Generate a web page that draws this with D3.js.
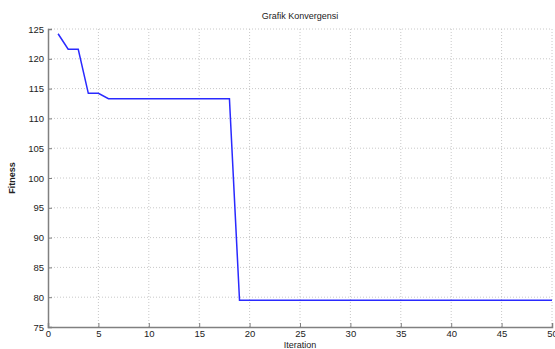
<!DOCTYPE html>
<html>
<head>
<meta charset="utf-8">
<script src="https://cdn.jsdelivr.net/npm/d3@7"></script>
<style>
  body { margin: 0; background: #fff; }
  text { font-family: "Liberation Sans", Arial, sans-serif; }
</style>
</head>
<body>
<div id="chart"></div>
<script>
// fitness per iteration
const iterations = d3.range(1, 51);
const fitness = [
  124.2, 121.6, 121.6, 114.2, 114.2, 113.3, 113.3, 113.3, 113.3, 113.3,
  113.3, 113.3, 113.3, 113.3, 113.3, 113.3, 113.3, 113.3, 79.5, 79.5,
  79.5, 79.5, 79.5, 79.5, 79.5, 79.5, 79.5, 79.5, 79.5, 79.5,
  79.5, 79.5, 79.5, 79.5, 79.5, 79.5, 79.5, 79.5, 79.5, 79.5,
  79.5, 79.5, 79.5, 79.5, 79.5, 79.5, 79.5, 79.5, 79.5, 79.5
];
const xTicks = [0, 5, 10, 15, 20, 25, 30, 35, 40, 45, 50];
const yTicks = [75, 80, 85, 90, 95, 100, 105, 110, 115, 120, 125];

const svgWidth = 555;
const svgHeight = 349;
const margin = { top: 29, right: 3, bottom: 22, left: 48 };
const width = svgWidth - margin.left - margin.right;
const height = svgHeight - margin.top - margin.bottom;

const svg = d3.select("#chart")
  .append("svg")
  .attr("width", svgWidth)
  .attr("height", svgHeight);

const g = svg.append("g")
  .attr("transform", `translate(${margin.left},${margin.top})`);

const x = d3.scaleLinear().domain([0, 50]).range([0, width]);
const y = d3.scaleLinear().domain([75, 125]).range([height, 0]);

// dotted grid
g.append("g")
  .selectAll("line")
  .data(xTicks.slice(1))
  .join("line")
  .attr("x1", d => x(d)).attr("x2", d => x(d))
  .attr("y1", 0).attr("y2", height)
  .attr("stroke", "#c8c8c8")
  .attr("stroke-dasharray", "1,2");

g.append("g")
  .selectAll("line")
  .data(yTicks.slice(1))
  .join("line")
  .attr("x1", 0).attr("x2", width)
  .attr("y1", d => y(d)).attr("y2", d => y(d))
  .attr("stroke", "#c8c8c8")
  .attr("stroke-dasharray", "1,2");

// axes, ticks pointing inwards
const xAxis = g.append("g")
  .attr("transform", `translate(0,${height})`)
  .call(d3.axisBottom(x).tickValues(xTicks).tickSize(-4).tickPadding(3));

const yAxis = g.append("g")
  .call(d3.axisLeft(y).tickValues(yTicks).tickSize(-4).tickPadding(4));

[xAxis, yAxis].forEach(a => {
  a.select(".domain").attr("stroke", "#808080").attr("stroke-width", 1.5);
  a.selectAll(".tick line").attr("stroke", "#808080");
  a.selectAll(".tick text")
    .attr("fill", "#222")
    .attr("font-size", 9.5)
    .attr("font-family", "Liberation Sans, Arial, sans-serif");
});

// line
const line = d3.line()
  .x((d, i) => x(iterations[i]))
  .y(d => y(d));

g.append("path")
  .datum(fitness)
  .attr("fill", "none")
  .attr("stroke", "#2a2aff")
  .attr("stroke-width", 1.5)
  .attr("d", line);

// labels
svg.append("text")
  .attr("x", margin.left + width / 2)
  .attr("y", 19)
  .attr("text-anchor", "middle")
  .attr("font-size", 9)
  .attr("fill", "#222")
  .text("Grafik Konvergensi");

svg.append("text")
  .attr("x", margin.left + width / 2)
  .attr("y", 348)
  .attr("text-anchor", "middle")
  .attr("font-size", 9)
  .attr("fill", "#222")
  .text("Iteration");

svg.append("text")
  .attr("transform", `translate(15,${margin.top + height / 2}) rotate(-90)`)
  .attr("text-anchor", "middle")
  .attr("font-size", 9)
  .attr("font-weight", "bold")
  .attr("fill", "#222")
  .text("Fitness");
</script>
</body>
</html>
